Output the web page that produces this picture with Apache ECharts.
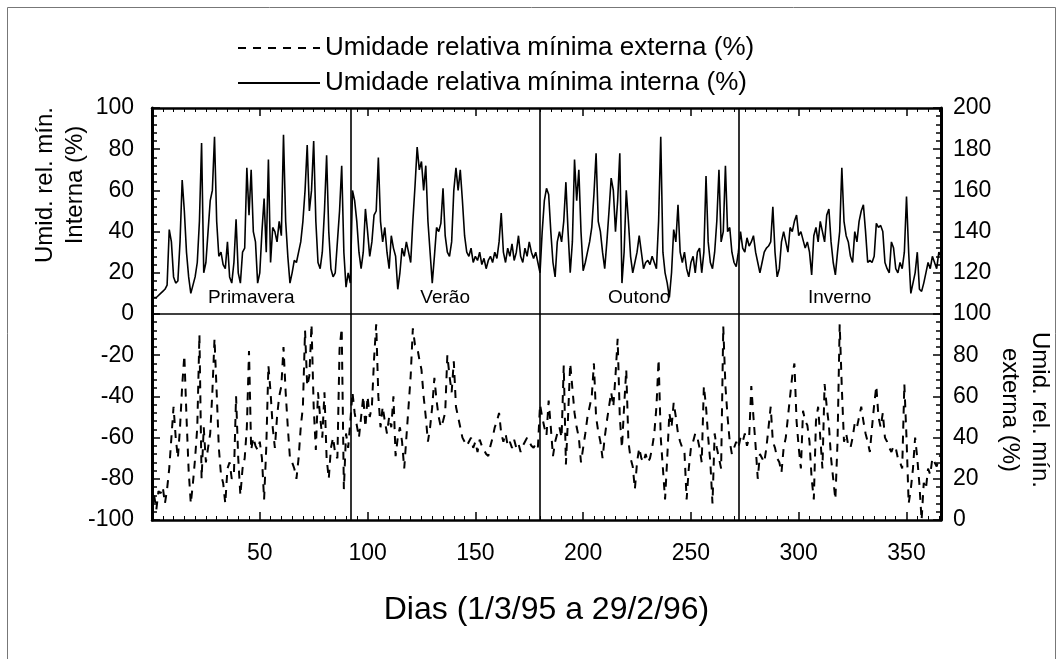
<!DOCTYPE html>
<html>
<head>
<meta charset="utf-8">
<script src="https://cdn.jsdelivr.net/npm/echarts@6/dist/echarts.min.js"></script>
<style>
html,body{margin:0;padding:0;background:#fff;}
#chart{width:1059px;height:659px;}
</style>
</head>
<body>
<div id="chart"></div>
<script>
// ---- data ----
const xTicks = [50, 100, 150, 200, 250, 300, 350];
const leftTicks = [100, 80, 60, 40, 20, 0, -20, -40, -60, -80, -100];
const rightTicks = [200, 180, 160, 140, 120, 100, 80, 60, 40, 20, 0];
const seasonNames = ['Primavera', 'Verão', 'Outono', 'Inverno'];
const seasonDividers = [92, 180, 272];
const seriesNames = ['Umidade relativa mínima externa (%)', 'Umidade relativa mínima interna (%)'];

// internal minimum relative humidity, day 1..366
const interna = [
 8,8,9,10,11,12,14,41,35,18,
 15,16,35,65,50,30,18,10,14,18,
 25,45,83,20,25,40,55,60,86,45,
 28,30,24,22,35,18,15,25,46,20,
 15,30,32,71,48,70,40,35,15,20,
 40,56,30,75,25,42,40,35,45,38,
 87,45,28,15,20,26,25,30,35,45,
 60,82,50,60,84,45,25,22,30,50,
 77,40,22,18,20,35,50,72,30,13,
 20,15,60,55,45,30,22,30,51,40,
 28,35,48,50,76,45,35,42,30,22,
 38,32,28,12,20,32,28,35,30,25,
 45,62,81,70,74,60,72,45,30,15,
 28,42,40,44,61,38,30,28,35,60,
 71,60,70,55,38,30,28,32,25,28,
 26,30,24,27,22,26,28,25,30,27,
 35,49,30,25,32,28,34,26,30,38,
 28,25,32,28,35,30,27,30,25,20,
 40,55,61,58,40,25,18,35,40,35,
 45,64,40,20,35,75,55,70,40,21,
 25,30,35,42,58,78,45,40,30,22,
 35,50,66,60,40,55,78,15,30,60,
 45,28,20,25,30,38,30,22,25,26,
 24,28,25,22,45,86,30,20,15,8,
 20,41,35,53,30,25,30,22,18,25,
 28,20,30,32,20,30,67,35,25,22,
 30,45,70,35,40,72,40,42,30,25,
 23,30,40,32,30,37,33,35,38,30,
 25,20,25,30,32,33,35,52,30,18,
 22,35,40,35,30,42,40,45,48,38,
 40,36,32,35,30,19,38,42,35,45,
 40,35,48,51,35,25,19,30,40,71,
 45,38,35,28,25,40,35,45,50,53,
 40,25,26,25,28,44,42,43,40,25,
 22,20,35,32,22,20,25,22,30,57,
 30,10,15,20,30,12,11,15,20,25,
 22,28,25,22,30,28
];

// external minimum relative humidity, day 1..366
const externa = [
 12,5,14,13,16,8,15,25,40,55,
 40,30,45,65,80,50,24,8,18,30,
 45,90,20,45,28,35,42,62,88,62,
 35,22,18,8,25,28,20,22,60,30,
 12,25,30,45,82,34,40,36,34,38,
 30,10,35,75,62,45,35,50,60,65,
 84,62,45,30,28,25,20,30,45,55,
 92,65,70,95,55,34,62,50,40,62,
 30,20,35,40,32,30,83,93,15,42,
 35,48,62,52,46,40,50,60,45,60,
 50,55,78,95,60,45,55,48,42,50,
 45,60,31,40,45,38,25,40,55,70,
 93,85,84,78,73,60,50,38,45,55,
 69,58,50,45,48,52,80,70,62,77,
 55,50,45,40,38,36,38,40,35,38,
 33,39,36,34,32,31,36,40,45,48,
 52,42,38,42,36,38,35,39,35,37,
 33,36,38,40,38,36,35,37,35,56,
 50,45,41,58,45,31,38,42,45,40,
 75,27,50,76,64,52,45,40,28,35,
 42,50,55,60,76,50,43,38,30,40,
 48,55,62,55,70,88,50,35,55,73,
 38,30,26,15,28,35,30,28,32,28,
 30,35,42,55,78,40,25,10,30,52,
 45,57,50,42,38,35,33,10,25,35,
 38,42,40,35,28,65,55,40,28,8,
 42,35,30,25,94,65,50,38,32,35,
 38,35,40,38,42,36,40,65,50,36,
 20,32,30,28,35,45,55,38,35,30,
 28,23,35,40,50,60,70,76,48,35,
 25,53,48,46,38,20,10,48,55,40,
 25,66,55,46,30,20,10,38,95,64,
 38,42,36,35,40,47,45,50,55,48,
 42,38,33,45,56,65,50,45,52,40,
 38,35,33,36,35,30,28,25,66,40,
 8,15,25,40,30,17,0,18,15,25,
 22,30,28,26,30,32
];

const days = interna.map((_, i) => i + 1);
const internaData = days.map((d, i) => [d, interna[i]]);
const externaData = days.map((d, i) => [d, externa[i]]);

const FONT = "'Liberation Sans', Arial, sans-serif";

const chart = echarts.init(document.getElementById('chart'));

const gridLeft = 152, gridTop = 108, gridRight = 118, gridBottom = 139;
const plotW = 1059 - gridLeft - gridRight;
const XMIN = 0, XMAX = 366;
function dayToX(d) { return gridLeft + (d - XMIN) / (XMAX - XMIN) * plotW; }

const seasonStarts = [0].concat(seasonDividers);
const seasonEnds = seasonDividers.concat([XMAX]);
const seasonLabels = seasonNames.map((name, i) => ({
  type: 'text',
  x: (dayToX(seasonStarts[i]) + dayToX(seasonEnds[i])) / 2,
  y: 298,
  style: {
    text: name, font: '19px ' + FONT, fill: '#000',
    textAlign: 'center', textVerticalAlign: 'middle'
  },
  z: 10
}));

const axisLineStyle = { color: '#000', width: 2.5 };

chart.setOption({
  animation: false,
  backgroundColor: '#fff',
  textStyle: { fontFamily: FONT, color: '#000' },
  legend: {
    orient: 'vertical',
    left: 232,
    top: 30,
    itemGap: 9,
    itemWidth: 82,
    itemHeight: 14,
    data: seriesNames,
    itemStyle: { opacity: 0 },
    textStyle: { fontSize: 26, fontFamily: FONT, color: '#000' },
    selectedMode: false
  },
  grid: { left: gridLeft, top: gridTop, right: gridRight, bottom: gridBottom },
  xAxis: [{
    type: 'value',
    min: XMIN, max: XMAX,
    interval: 50,
    position: 'bottom',
    axisLine: { show: true, onZero: false, lineStyle: axisLineStyle },
    axisTick: { inside: true, length: 8, lineStyle: { color: '#000', width: 1.5 } },
    minorTick: { show: true, splitNumber: 10, length: 4, lineStyle: { color: '#000', width: 1 } },
    axisLabel: {
      fontSize: 23, fontFamily: FONT, color: '#000', margin: 22,
      formatter: v => xTicks.includes(v) ? String(v) : ''
    },
    splitLine: { show: false },
    name: 'Dias (1/3/95 a 29/2/96)',
    nameLocation: 'middle',
    nameGap: 74,
    nameTextStyle: { fontSize: 32, fontFamily: FONT, color: '#000' }
  }, {
    type: 'value',
    min: XMIN, max: XMAX,
    interval: 50,
    position: 'top',
    axisLine: { show: true, onZero: false, lineStyle: axisLineStyle },
    axisTick: { inside: true, length: 8, lineStyle: { color: '#000', width: 1.5 } },
    minorTick: { show: true, splitNumber: 10, length: 4, lineStyle: { color: '#000', width: 1 } },
    axisLabel: { show: false },
    splitLine: { show: false }
  }],
  yAxis: [{
    type: 'value',
    min: -100, max: 100, interval: 20,
    position: 'left',
    axisLine: { show: true, onZero: false, lineStyle: { color: '#000', width: 3 } },
    axisTick: { inside: true, length: 8, lineStyle: { color: '#000', width: 1.5 } },
    minorTick: { show: true, splitNumber: 5, length: 5, lineStyle: { color: '#000', width: 1.5 } },
    axisLabel: {
      fontSize: 23, fontFamily: FONT, color: '#000', margin: 18,
      formatter: v => leftTicks.includes(v) ? String(v) : ''
    },
    splitLine: { show: false }
  }, {
    type: 'value',
    min: 0, max: 200, interval: 20,
    position: 'right',
    axisLine: { show: true, onZero: false, lineStyle: { color: '#000', width: 3 } },
    axisTick: { inside: true, length: 8, lineStyle: { color: '#000', width: 1.5 } },
    minorTick: { show: true, splitNumber: 5, length: 5, lineStyle: { color: '#000', width: 1.5 } },
    axisLabel: {
      fontSize: 23, fontFamily: FONT, color: '#000', margin: 12,
      formatter: v => rightTicks.includes(v) ? String(v) : ''
    },
    splitLine: { show: false }
  }],
  series: [{
    name: seriesNames[0],
    type: 'line',
    xAxisIndex: 0,
    yAxisIndex: 1,
    data: externaData,
    symbol: 'none',
    color: '#000',
    lineStyle: { color: '#000', width: 2, type: [8, 7] },
    z: 3
  }, {
    name: seriesNames[1],
    type: 'line',
    xAxisIndex: 0,
    yAxisIndex: 0,
    data: internaData,
    symbol: 'none',
    color: '#000',
    lineStyle: { color: '#000', width: 1.6 },
    z: 4,
    markLine: {
      silent: true,
      symbol: 'none',
      label: { show: false },
      lineStyle: { color: '#000', width: 1.6, type: 'solid' },
      data: seasonDividers.map(d => ({ xAxis: d })).concat([{ yAxis: 0 }])
    }
  }],
  graphic: [{
    type: 'rect',
    shape: { x: 7.5, y: 7.5, width: 1048, height: 700 },
    style: { fill: 'none', stroke: '#777', lineWidth: 1 },
    silent: true, z: 0
  }, {
    type: 'text',
    x: 60, y: 185,
    rotation: Math.PI / 2,
    style: {
      text: 'Umid. rel. mín.\nInterna (%)', font: '24px ' + FONT, fill: '#000',
      textAlign: 'center', textVerticalAlign: 'middle', lineHeight: 30
    }
  }, {
    type: 'text',
    x: 1025, y: 410,
    rotation: -Math.PI / 2,
    style: {
      text: 'Umid. rel. mín.\nexterna (%)', font: '24px ' + FONT, fill: '#000',
      textAlign: 'center', textVerticalAlign: 'middle', lineHeight: 30
    }
  }].concat(seasonLabels)
});
</script>
</body>
</html>
